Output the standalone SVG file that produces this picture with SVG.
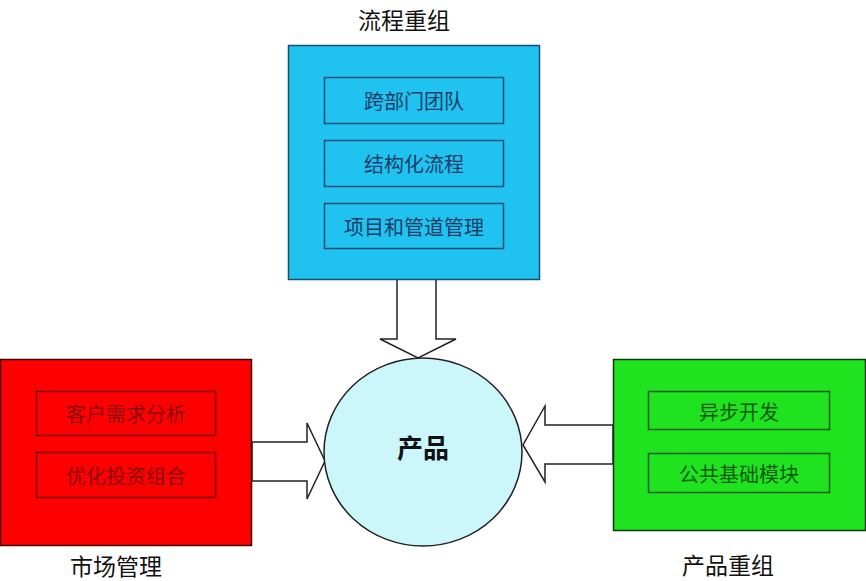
<svg xmlns="http://www.w3.org/2000/svg" width="866" height="581" viewBox="0 0 866 581">
<style>
text{font-family:"Noto Sans CJK SC","Noto Sans",sans-serif;text-anchor:middle;dominant-baseline:central}
.lbl{font-size:23px;fill:#111}
.inner{font-size:20px}
.arrow{fill:#fff;stroke:#222;stroke-width:1.5}
</style>
<rect width="866" height="581" fill="#fff"/>
<g id="connectors">
<path class="arrow" d="M397,279 V339 H380 L418,358 L456,339 H436 V279 Z"/>
<path class="arrow" d="M252,442 H307 V423 L325,461 L307,499 V481 H252 Z"/>
<path class="arrow" d="M613,425 H545 V406 L523,445 L545,482 V464 H613 Z"/>
</g>
<g id="process">
<rect x="288.5" y="45.5" width="251" height="234" fill="#20C2F0" stroke="#1a4d70" stroke-width="1.5"/>
<g fill="none" stroke="#1a4d70" stroke-width="1.5">
<rect x="324.5" y="77.5" width="179" height="46"/>
<rect x="324.5" y="140.5" width="179" height="46"/>
<rect x="324.5" y="203.5" width="179" height="45"/>
</g>
<g class="inner" fill="#1d3d66">
<text x="414" y="100">跨部门团队</text>
<text x="414" y="163">结构化流程</text>
<text x="414" y="226">项目和管道管理</text>
</g>
<text class="lbl" x="404" y="19">流程重组</text>
</g>
<g id="market">
<rect x="0.5" y="359.5" width="251" height="186" fill="#FF0000" stroke="#400000" stroke-width="1.5"/>
<g fill="none" stroke="#7a0000" stroke-width="1.5">
<rect x="36.5" y="391.5" width="179" height="44"/>
<rect x="36.5" y="452.5" width="179" height="45"/>
</g>
<g class="inner" fill="#8a0a0a">
<text x="126" y="413">客户需求分析</text>
<text x="126" y="475">优化投资组合</text>
</g>
<text class="lbl" x="116" y="565">市场管理</text>
</g>
<g id="product">
<ellipse cx="423" cy="452" rx="99" ry="94" fill="#CCF7FA" stroke="#222" stroke-width="1.5"/>
<text x="423" y="446" font-size="26" font-weight="bold" fill="#111">产品</text>
</g>
<g id="productrecon">
<rect x="613.5" y="359.5" width="252" height="171" fill="#1EE31E" stroke="#0a3a0a" stroke-width="1.5"/>
<g fill="none" stroke="#0d5a0d" stroke-width="1.5">
<rect x="648.5" y="391.5" width="181" height="38"/>
<rect x="648.5" y="453.5" width="181" height="39"/>
</g>
<g class="inner" fill="#0a5a0a">
<text x="739" y="411">异步开发</text>
<text x="739" y="473">公共基础模块</text>
</g>
<text class="lbl" x="728" y="564">产品重组</text>
</g>
</svg>
